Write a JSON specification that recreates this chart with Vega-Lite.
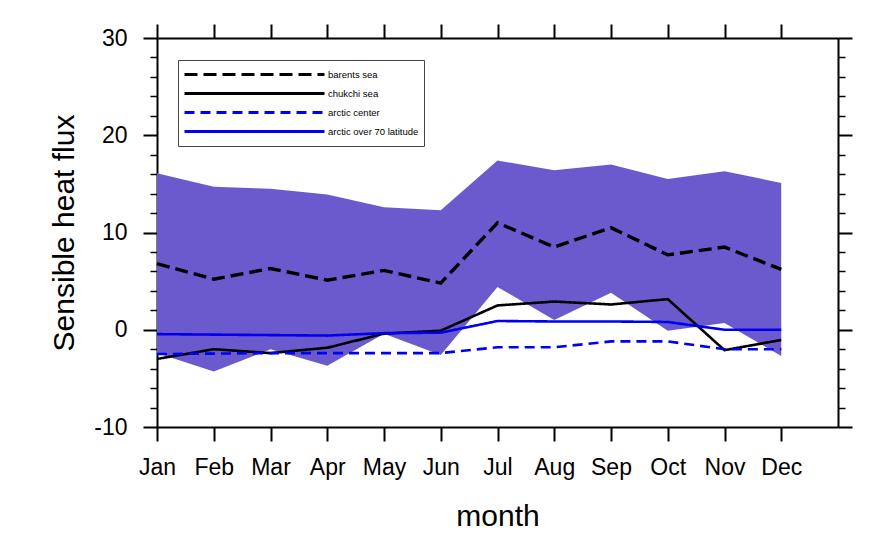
{
  "$schema": "https://vega.github.io/schema/vega-lite/v6.json",
  "autosize": "none",
  "width": 681,
  "height": 389,
  "padding": {"left": 157, "top": 38, "right": 57, "bottom": 130},
  "background": "white",
  "config": {
    "view": {"stroke": null},
    "font": "Liberation Sans",
    "axis": {
      "grid": false,
      "domainColor": "black",
      "domainWidth": 2,
      "tickColor": "black",
      "labelColor": "black",
      "titleColor": "black",
      "labelFont": "Liberation Sans",
      "titleFont": "Liberation Sans",
      "titleFontWeight": "normal",
      "labelFlush": false,
      "labelOverlap": false
    },
    "legend": {
      "title": null,
      "orient": "none",
      "legendX": 21,
      "legendY": 22,
      "symbolType": "stroke",
      "symbolSize": 19600,
      "symbolStrokeWidth": 3,
      "clipHeight": 19,
      "labelFontSize": 9.5,
      "labelFont": "Liberation Sans",
      "labelColor": "black",
      "labelOffset": 2,
      "rowPadding": 0,
      "padding": 5,
      "strokeColor": "#444444",
      "fillColor": "white"
    }
  },
  "datasets": {
    "band": [
      {"month": 1, "lo": -2.4, "hi": 16.1},
      {"month": 2, "lo": -4.3, "hi": 14.7},
      {"month": 3, "lo": -2.0, "hi": 14.5},
      {"month": 4, "lo": -3.7, "hi": 13.9},
      {"month": 5, "lo": -0.4, "hi": 12.6},
      {"month": 6, "lo": -2.6, "hi": 12.3},
      {"month": 7, "lo": 4.4, "hi": 17.4},
      {"month": 8, "lo": 1.0, "hi": 16.4},
      {"month": 9, "lo": 3.8, "hi": 17.0},
      {"month": 10, "lo": -0.1, "hi": 15.5},
      {"month": 11, "lo": 0.7, "hi": 16.3},
      {"month": 12, "lo": -2.7, "hi": 15.1}
    ],
    "lines": [
      {"month": 1, "series": "barents sea", "value": 6.8},
      {"month": 2, "series": "barents sea", "value": 5.2},
      {"month": 3, "series": "barents sea", "value": 6.3},
      {"month": 4, "series": "barents sea", "value": 5.1},
      {"month": 5, "series": "barents sea", "value": 6.1},
      {"month": 6, "series": "barents sea", "value": 4.8},
      {"month": 7, "series": "barents sea", "value": 11.0},
      {"month": 8, "series": "barents sea", "value": 8.5},
      {"month": 9, "series": "barents sea", "value": 10.5},
      {"month": 10, "series": "barents sea", "value": 7.7},
      {"month": 11, "series": "barents sea", "value": 8.5},
      {"month": 12, "series": "barents sea", "value": 6.2},
      {"month": 1, "series": "chukchi sea", "value": -3.0},
      {"month": 2, "series": "chukchi sea", "value": -2.0},
      {"month": 3, "series": "chukchi sea", "value": -2.4},
      {"month": 4, "series": "chukchi sea", "value": -1.85},
      {"month": 5, "series": "chukchi sea", "value": -0.4},
      {"month": 6, "series": "chukchi sea", "value": -0.1},
      {"month": 7, "series": "chukchi sea", "value": 2.5},
      {"month": 8, "series": "chukchi sea", "value": 2.9},
      {"month": 9, "series": "chukchi sea", "value": 2.6},
      {"month": 10, "series": "chukchi sea", "value": 3.15},
      {"month": 11, "series": "chukchi sea", "value": -2.1},
      {"month": 12, "series": "chukchi sea", "value": -1.05},
      {"month": 1, "series": "arctic center", "value": -2.5},
      {"month": 2, "series": "arctic center", "value": -2.45},
      {"month": 3, "series": "arctic center", "value": -2.4},
      {"month": 4, "series": "arctic center", "value": -2.4},
      {"month": 5, "series": "arctic center", "value": -2.4},
      {"month": 6, "series": "arctic center", "value": -2.4},
      {"month": 7, "series": "arctic center", "value": -1.8},
      {"month": 8, "series": "arctic center", "value": -1.8},
      {"month": 9, "series": "arctic center", "value": -1.2},
      {"month": 10, "series": "arctic center", "value": -1.2},
      {"month": 11, "series": "arctic center", "value": -2.0},
      {"month": 12, "series": "arctic center", "value": -2.0},
      {"month": 1, "series": "arctic over 70 latitude", "value": -0.45},
      {"month": 2, "series": "arctic over 70 latitude", "value": -0.5},
      {"month": 3, "series": "arctic over 70 latitude", "value": -0.55},
      {"month": 4, "series": "arctic over 70 latitude", "value": -0.6},
      {"month": 5, "series": "arctic over 70 latitude", "value": -0.35},
      {"month": 6, "series": "arctic over 70 latitude", "value": -0.3},
      {"month": 7, "series": "arctic over 70 latitude", "value": 0.9},
      {"month": 8, "series": "arctic over 70 latitude", "value": 0.85},
      {"month": 9, "series": "arctic over 70 latitude", "value": 0.85},
      {"month": 10, "series": "arctic over 70 latitude", "value": 0.8},
      {"month": 11, "series": "arctic over 70 latitude", "value": 0.0},
      {"month": 12, "series": "arctic over 70 latitude", "value": 0.0}
    ]
  },
  "layer": [
    {
      "data": {"name": "band"},
      "mark": {"type": "area", "color": "#6a5acd", "opacity": 1},
      "encoding": {
        "x": {
          "field": "month", "type": "quantitative",
          "scale": {"domain": [1, 13], "nice": false, "zero": false},
          "axis": {
            "orient": "bottom",
            "values": [1, 2, 3, 4, 5, 6, 7, 8, 9, 10, 11, 12],
            "labelExpr": "['Jan','Feb','Mar','Apr','May','Jun','Jul','Aug','Sep','Oct','Nov','Dec'][datum.value - 1]",
            "tickSize": 14, "tickWidth": 2,
            "labelFontSize": 23, "labelPadding": 15,
            "title": "month", "titleFontSize": 30, "titlePadding": 22
          }
        },
        "y": {
          "field": "lo", "type": "quantitative",
          "scale": {"domain": [-10, 30], "nice": false, "zero": false},
          "axis": {
            "orient": "left",
            "values": [-10, -8, -6, -4, -2, 0, 2, 4, 6, 8, 10, 12, 14, 16, 18, 20, 22, 24, 26, 28, 30],
            "labelExpr": "datum.value % 10 === 0 ? '' + datum.value : ''",
            "tickSize": {"condition": {"test": "datum.value % 10 === 0", "value": 14}, "value": 7},
            "tickWidth": {"condition": {"test": "datum.value % 10 === 0", "value": 2}, "value": 1.5},
            "labelFontSize": 23, "labelPadding": 16,
            "title": "Sensible heat flux", "titleFontSize": 30, "titlePadding": 14
          }
        },
        "y2": {"field": "hi"}
      }
    },
    {
      "data": {"name": "lines"},
      "mark": {"type": "line", "interpolate": "linear"},
      "encoding": {
        "x": {
          "field": "month", "type": "quantitative",
          "scale": {"domain": [1, 13], "nice": false, "zero": false},
          "axis": {
            "orient": "top",
            "values": [1, 2, 3, 4, 5, 6, 7, 8, 9, 10, 11, 12],
            "labels": false, "title": null,
            "tickSize": 14, "tickWidth": 2
          }
        },
        "y": {
          "field": "value", "type": "quantitative",
          "scale": {"domain": [-10, 30], "nice": false, "zero": false},
          "axis": {
            "orient": "right",
            "values": [-10, -8, -6, -4, -2, 0, 2, 4, 6, 8, 10, 12, 14, 16, 18, 20, 22, 24, 26, 28, 30],
            "labels": false, "title": null,
            "tickSize": {"condition": {"test": "datum.value % 10 === 0", "value": 14}, "value": 7},
            "tickWidth": {"condition": {"test": "datum.value % 10 === 0", "value": 2}, "value": 1.5}
          }
        },
        "color": {
          "field": "series", "type": "nominal",
          "scale": {
            "domain": ["barents sea", "chukchi sea", "arctic center", "arctic over 70 latitude"],
            "range": ["#000000", "#000000", "#0000ee", "#0000ee"]
          },
          "legend": {"title": null}
        },
        "strokeDash": {
          "field": "series", "type": "nominal",
          "scale": {
            "domain": ["barents sea", "chukchi sea", "arctic center", "arctic over 70 latitude"],
            "range": [[13, 6], [1, 0], [10, 6], [1, 0]]
          },
          "legend": {"title": null}
        },
        "strokeWidth": {"condition": {"test": "datum.series === 'barents sea'", "value": 3.4}, "value": 2.6}
      }
    }
  ],
  "resolve": {"axis": {"x": "independent", "y": "independent"}}
}
